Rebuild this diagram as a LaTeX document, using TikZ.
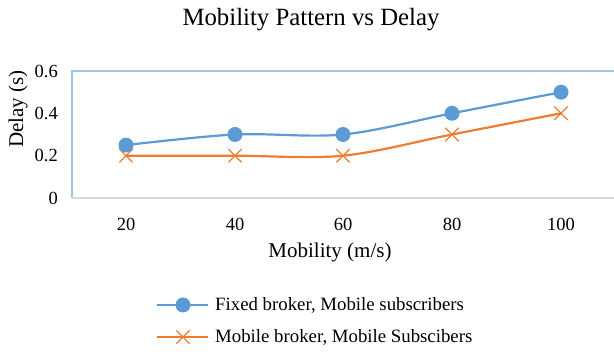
\documentclass[tikz,border=0pt]{standalone}
\usepackage{fontspec}
\setmainfont{Liberation Serif}
\usetikzlibrary{shapes.misc}
\definecolor{serA}{HTML}{5B9BD5}
\definecolor{serB}{HTML}{ED7D31}
\definecolor{frameblue}{HTML}{9DC3E6}
\definecolor{axgray}{HTML}{D9D9D9}
\tikzset{
  serline/.style={line width=2.2pt, line cap=round, line join=round},
  dotmark/.style={circle, fill=serA, inner sep=0pt, minimum size=15pt},
  crossmark/.style={draw=serB, line width=1.3pt, cross out, inner sep=0pt, minimum size=12pt},
  ticklbl/.style={font=\fontsize{18.5}{20}\selectfont, inner sep=0pt},
  axlbl/.style={font=\fontsize{21}{24}\selectfont, inner sep=0pt},
  leglbl/.style={font=\fontsize{18.8}{22}\selectfont, inner sep=0pt},
}
\begin{document}
\begin{tikzpicture}[x=1pt,y=-1pt]
\useasboundingbox (0,0) rectangle (614,352);
% frame
\draw[frameblue, line width=1.3pt] (72,198) -- (72,71) -- (614,71);
\draw[axgray, line width=1.3pt] (72,198) -- (614,198);
% title
\node[font=\fontsize{24.8}{28}\selectfont, inner sep=0pt] (title) at (311,20) {Mobility Pattern vs Delay};
% y ticks
\node[ticklbl, anchor=east] (y0) at (58,198) {0};
\node[ticklbl, anchor=east] (y2) at (58,155.7) {0.2};
\node[ticklbl, anchor=east] (y4) at (58,113.3) {0.4};
\node[ticklbl, anchor=east] (y6) at (58,71) {0.6};
% x ticks
\node[ticklbl] (x20) at (126,224) {20};
\node[ticklbl] (x40) at (235,224) {40};
\node[ticklbl] (x60) at (343,224) {60};
\node[ticklbl] (x80) at (452,224) {80};
\node[ticklbl] (x100) at (561,224) {100};
% axis titles
\node[axlbl] (xt) at (330,252) {Mobility (m/s)};
\node[axlbl, rotate=90] (yt) at (18,109) {Delay (s)};
% series B (orange)
\draw[serB, serline] plot[smooth, tension=0.55] coordinates {(126,155.7) (235,155.7) (343,155.7) (452,134.5) (561,113.3)};
\foreach \n/\x/\y in {b1/126/155.7, b2/235/155.7, b3/343/155.7, b4/452/134.5, b5/561/113.3}
  \node[crossmark] (\n) at (\x,\y) {};
% series A (blue)
\draw[serA, serline] plot[smooth, tension=0.55] coordinates {(126,145.1) (235,134.5) (343,134.5) (452,113.3) (561,92.2)};
\foreach \n/\x/\y in {a1/126/145.1, a2/235/134.5, a3/343/134.5, a4/452/113.3, a5/561/92.2}
  \node[dotmark] (\n) at (\x,\y) {};
% legend
\coordinate (la1) at (157,305); \coordinate (la2) at (208,305);
\draw[serA, line width=2.2pt] (la1) -- (la2);
\node[dotmark] (lam) at (183,305) {};
\node[leglbl, anchor=west] (lat) at (215,305) {Fixed broker, Mobile subscribers};
\coordinate (lb1) at (157,337); \coordinate (lb2) at (208,337);
\draw[serB, line width=2.2pt] (lb1) -- (lb2);
\node[crossmark] (lbm) at (183,337) {};
\node[leglbl, anchor=west] (lbt) at (215,337) {Mobile broker, Mobile Subscibers};
\end{tikzpicture}
\end{document}
